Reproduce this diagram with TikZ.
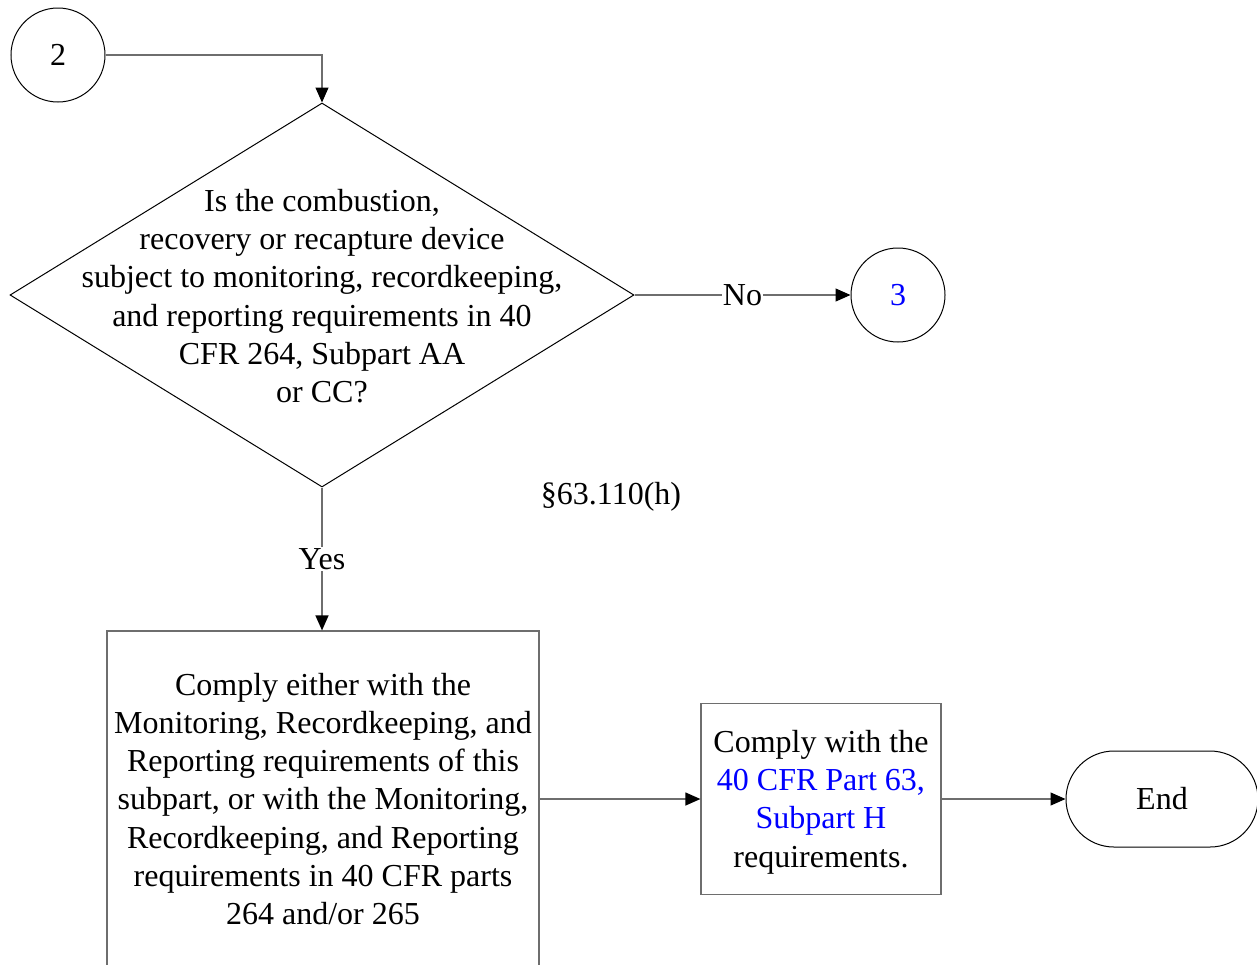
\documentclass[tikz,border=0pt]{standalone}
\usepackage{fontspec}
\setmainfont{Liberation Serif}
\usetikzlibrary{arrows.meta,shapes.geometric}
\definecolor{linegray}{RGB}{110,110,110}
\definecolor{linkblue}{RGB}{0,0,255}
\begin{document}
\begin{tikzpicture}[x=0.5pt,y=-0.5pt,
  every node/.style={font=\fontsize{16}{19.15}\selectfont, inner sep=0pt},
  conn/.style={draw=linegray, line width=0.6pt, -{Triangle[length=7.5pt,width=6.5pt,black]}},
  connector/.style={circle, draw=black, line width=0.5pt, minimum size=47pt},
  decision/.style={diamond, draw=black, line width=0.5pt, minimum width=312pt, minimum height=192pt},
  procbox/.style={rectangle, draw=linegray, line width=0.6pt, align=center},
  terminal/.style={rectangle, rounded corners=24pt, draw=black, line width=0.5pt, minimum width=96pt, minimum height=48pt},
  lbl/.style={fill=white, inner sep=0.5pt}]
\useasboundingbox (0,0) rectangle (1257,964);
\node[connector] (c2) at (58,55) {2};
\node[decision] (d) at (322,295) {};
\node[align=center] (dtext) at (322,296) {Is the combustion,\\recovery or recapture device\\subject to monitoring, recordkeeping,\\and reporting requirements in 40\\CFR 264, Subpart AA\\or CC?};
\node[connector, text=linkblue] (c3) at (898,295) {3};
\node (sec) at (611,497) {\S63.110(h)};
\node[procbox, minimum width=216pt, minimum height=170pt] (b1) at (323,801) {};
\node[align=center] (b1text) at (323,799) {Comply either with the\\Monitoring, Recordkeeping, and\\Reporting requirements of this\\subpart, or with the Monitoring,\\Recordkeeping, and Reporting\\requirements in 40 CFR parts\\264 and/or 265};
\node[procbox, minimum width=120pt, minimum height=95.5pt] (b2) at (821,799) {};
\node[align=center] (b2text) at (821,802) {Comply with the\\\textcolor{linkblue}{40 CFR Part 63,}\\\textcolor{linkblue}{Subpart H}\\requirements.};
\node[terminal] (end) at (1162,799) {End};
\draw[conn] (c2.east) -| (d.north);
\draw[conn] (d.east) -- node[lbl] {No} (c3.west);
\draw[conn] (d.south) -- node[lbl] {Yes} (d.south |- b1.north);
\draw[conn] (b1.east |- b2.west) -- (b2.west);
\draw[conn] (b2.east) -- (end.west);
\end{tikzpicture}
\end{document}
